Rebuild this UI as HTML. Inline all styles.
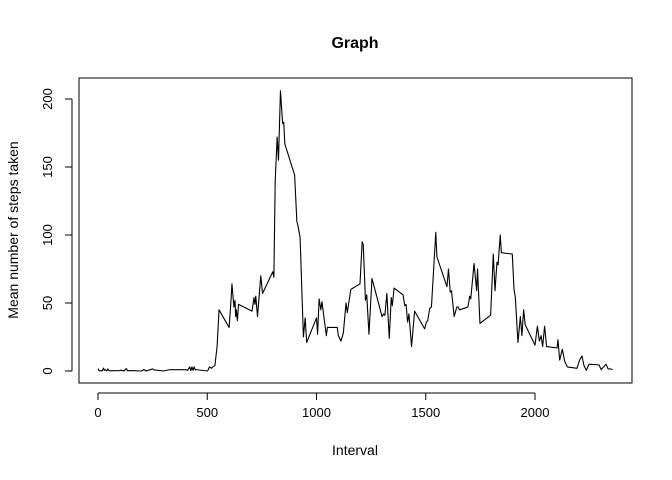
<!DOCTYPE html>
<html><head><meta charset="utf-8"><style>
body{margin:0;background:#fff}
svg{display:block;font-family:"Liberation Sans",Arial,sans-serif}
</style></head><body>
<svg id="chart" width="672" height="480" viewBox="0 0 672 480">
<rect width="672" height="480" fill="#fff"/>
<text x="355" y="48" text-anchor="middle" font-size="16" font-weight="bold">Graph</text>
<rect x="79" y="78" width="553" height="305" fill="none" stroke="#000" stroke-width="1"/>
<g id="xaxis"></g>
<g id="yaxis"></g>
<text x="355" y="455" text-anchor="middle" font-size="14">Interval</text>
<text transform="translate(18,230) rotate(-90)" text-anchor="middle" font-size="14">Mean number of steps taken</text>
<path id="series" fill="none" stroke="#000" stroke-width="1.1" stroke-linejoin="round"/>
</svg>
<script>
const intervals=[0,5,10,15,20,25,30,35,40,45,50,55,100,105,110,115,120,125,130,135,140,150,200,210,220,250,255,300,330,400,410,420,425,430,435,440,445,450,500,505,510,520,525,535,545,554,600,608,613,622,627,630,633,638,643,705,714,718,722,730,745,753,800,805,811,820,826,835,845,850,855,900,910,915,925,940,948,955,1000,1005,1012,1020,1025,1045,1050,1095,1100,1112,1123,1135,1141,1157,1199,1209,1214,1224,1230,1240,1254,1300,1307,1313,1322,1333,1342,1347,1355,1396,1404,1410,1417,1423,1435,1449,1495,1503,1509,1518,1526,1546,1551,1597,1604,1612,1618,1630,1642,1649,1654,1693,1701,1706,1721,1733,1737,1748,1797,1809,1817,1826,1831,1841,1846,1896,1904,1910,1922,1933,1940,1948,1955,2000,2011,2020,2028,2035,2044,2053,2101,2105,2113,2125,2136,2148,2192,2204,2215,2224,2235,2247,2293,2303,2325,2335,2347,2355];
const steps=[1.7,0.3,0.1,0.2,0.1,2.1,0.5,0.9,0,1.5,0.3,0.1,0.3,0.7,0.2,0.3,0,1.1,1.8,0.2,0.2,0.3,0,1.1,0,1.5,0.9,0,1,1,0.5,3,0.3,3,0.5,3,1,1,0,1,3,2,3,4,18,45,32,50,64,47,52,40,45,37,49,44,54,49,55,40,70,57,73,69,140,172,155,206,182,183,167,144,110,107,98,25,39,21,39,27,53,45,51,26,32,32,26,22,28,50,43,60,64,95,93,52,56,27,68,40,42,41,57,24,54,48,61,56,48,49,36,42,18,44,31,36,37,46,47,102,84,62,75,58,59,40,47,47,45,47,55,53,79,59,75,35,41,86,59,80,78,100,87,86,60,54,21,40,26,45,34,19,33,22,26,18,33,18,17,23,8,16,7,3,2,8,11,4,0.5,5,4.5,1,5,1.5,1.5,1];
const xTicks=[0,500,1000,1500,2000];
const yTicks=[0,50,100,150,200];
const NS="http://www.w3.org/2000/svg";
const xs=v=>98+v*(437/2000);
const ys=v=>371-v*1.36;
let d="";
for(let i=0;i<intervals.length;i++){d+=(i?"L":"M")+xs(intervals[i]).toFixed(2)+","+ys(steps[i]).toFixed(2);}
document.getElementById("series").setAttribute("d",d);
const xa=document.getElementById("xaxis");
function mk(tag,attrs,parent){const e=document.createElementNS(NS,tag);for(const k in attrs)e.setAttribute(k,attrs[k]);parent.appendChild(e);return e;}
mk("line",{x1:xs(0),x2:xs(2000),y1:393,y2:393,stroke:"#000"},xa);
xTicks.forEach(t=>{
  const l=mk("line",{x1:xs(t),x2:xs(t),y1:393,y2:400,stroke:"#000"},xa);
  
  
  const tx=mk("text",{x:xs(t),y:417,"text-anchor":"middle","font-size":"13"},xa);
  
  
  tx.textContent=t;
});
const ya=document.getElementById("yaxis");
mk("line",{x1:72,x2:72,y1:ys(0),y2:ys(200),stroke:"#000"},ya);
yTicks.forEach(t=>{
  const l=mk("line",{x1:65,x2:72,y1:ys(t),y2:ys(t),stroke:"#000"},ya);
  
  
  const tx=mk("text",{transform:`translate(52,${ys(t)}) rotate(-90)`,"text-anchor":"middle","font-size":"13"},ya);
  
  
  tx.textContent=t;
});
</script>
</body></html>
